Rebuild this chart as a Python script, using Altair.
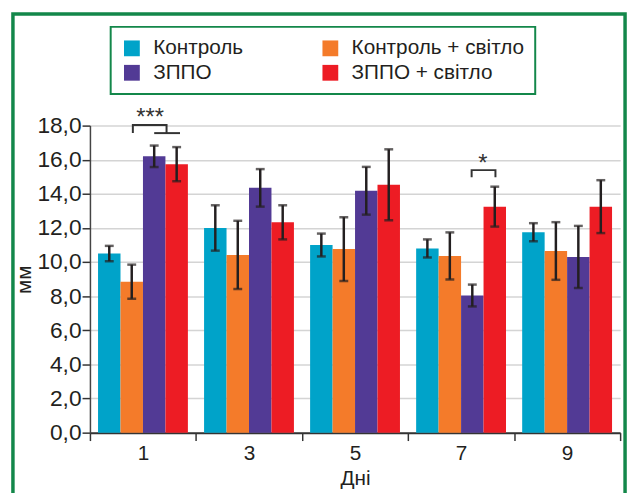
import altair as alt
import pandas as pd

days = ["1", "3", "5", "7", "9"]
groups = ["Контроль", "Контроль + світло", "ЗППО", "ЗППО + світло"]
colors = ["#00a3c9", "#f47b2a", "#523a95", "#ed1c24"]

control = [10.5, 12.0, 11.0, 10.8, 11.75]
control_err = [0.45, 1.33, 0.67, 0.53, 0.53]
control_light = [8.85, 10.42, 10.76, 10.36, 10.65]
control_light_err = [1.0, 2.0, 1.87, 1.38, 1.69]
zppo = [16.2, 14.35, 14.18, 8.04, 10.3]
zppo_err = [0.63, 1.1, 1.4, 0.64, 1.82]
zppo_light = [15.74, 12.33, 14.53, 13.25, 13.25]
zppo_light_err = [1.0, 1.0, 2.08, 1.17, 1.55]

y_ticks = [0, 2, 4, 6, 8, 10, 12, 14, 16, 18]

# significance brackets: segment id, day, slot position (in bar widths), value
br_seg = ["a", "a", "a", "a", "b", "b", "c", "c", "c", "c"]
br_day = ["1", "1", "1", "1", "1", "1", "7", "7", "7", "7"]
br_pos = [1.55, 1.55, 3.05, 3.05, 2.5, 3.65, 2.47, 2.47, 3.53, 3.53]
br_val = [17.56, 18.04, 18.04, 17.56, 17.56, 17.56, 14.97, 15.39, 15.39, 14.97]

star_text = ["***", "*"]
star_day = ["1", "7"]
star_pos = [2.32, 2.97]
star_val = [18.45, 15.75]

values = [control, control_light, zppo, zppo_light]
errors = [control_err, control_light_err, zppo_err, zppo_light_err]
rows = []
for g, vals, errs in zip(groups, values, errors):
    for d, v, e in zip(days, vals, errs):
        rows.append({"day": d, "group": g, "value": v, "lo": v - e, "hi": v + e})
df = pd.DataFrame(rows)

br_df = pd.DataFrame({"seg": br_seg, "day": br_day, "pos": br_pos, "val": br_val,
                      "ord": list(range(len(br_seg)))})
star_df = pd.DataFrame({"txt": star_text, "day": star_day, "pos": star_pos, "val": star_val})

INK = "#231f20"
GREEN = "#13874a"

x_enc = alt.X("day:N", sort=days, title="Дні",
              scale=alt.Scale(paddingInner=0, paddingOuter=0),
              axis=alt.Axis(labelAngle=0, tickBand="extent", tickSize=8, tickWidth=1.5,
                            tickColor="#333333", domainColor="#333333", domainWidth=2,
                            labelFontSize=21, labelPadding=2, labelColor=INK,
                            titleFontSize=21, titleFontWeight="normal", titleColor=INK,
                            titlePadding=5, grid=False))
xoff_nom = alt.XOffset("group:N", sort=groups,
                       scale=alt.Scale(domain=groups, paddingInner=0, paddingOuter=0.36))
xoff_q = alt.XOffset("pos:Q", scale=alt.Scale(domain=[-0.36, 4.36], nice=False, zero=False))
y_scale = alt.Scale(domain=[0, 18], nice=False)
y_axis = alt.Axis(values=y_ticks, tickCount=10,
                  labelExpr="replace(format(datum.value, '.1f'), '.', ',')",
                  labelOverlap=False,
                  tickSize=8, tickWidth=1.5, tickColor="#333333",
                  domainColor="#444444", domainWidth=1.5,
                  gridColor="#d4d4d4", gridWidth=1.5,
                  labelFontSize=23, labelPadding=1, labelColor=INK,
                  title="мм", titleFontSize=21, titleFontWeight="normal",
                  titleColor=INK, titlePadding=2)


def Y(field):
    return alt.Y(field, scale=y_scale, axis=y_axis, title="мм")


bars = alt.Chart(df).mark_bar().encode(
    x=x_enc,
    xOffset=xoff_nom,
    y=Y("value:Q"),
    color=alt.Color("group:N", sort=groups,
                    scale=alt.Scale(domain=groups, range=colors),
                    legend=alt.Legend(title=None, orient="none", legendX=21, legendY=-100,
                                      direction="horizontal", columns=2,
                                      columnPadding=77, rowPadding=3,
                                      symbolType="square", symbolSize=256,
                                      symbolStrokeWidth=0, symbolOpacity=1,
                                      labelFontSize=21, labelColor=INK, labelOffset=11,
                                      labelLimit=400,
                                      padding=11, strokeColor=GREEN)),
)

err_rule = alt.Chart(df).mark_rule(color="#231f20", strokeWidth=2.5).encode(
    x=x_enc, xOffset=xoff_nom,
    y=Y("lo:Q"), y2="hi:Q",
)
err_top = alt.Chart(df).mark_tick(color="#231f20", size=9, thickness=2.5).encode(
    x=x_enc, xOffset=xoff_nom, y=Y("hi:Q"),
)
err_bot = alt.Chart(df).mark_tick(color="#231f20", size=9, thickness=2.5).encode(
    x=x_enc, xOffset=xoff_nom, y=Y("lo:Q"),
)

brackets = alt.Chart(br_df).mark_line(color="#333333", strokeWidth=2).encode(
    x=x_enc, xOffset=xoff_q,
    y=Y("val:Q"),
    detail="seg:N", order="ord:Q",
)
stars = alt.Chart(star_df).mark_text(fontSize=24, color="#333333", baseline="middle").encode(
    x=x_enc, xOffset=xoff_q,
    y=Y("val:Q"),
    text="txt:N",
)

frame = alt.Chart(pd.DataFrame({"k": [0]})).mark_rect(
    fill="transparent", stroke=GREEN, strokeWidth=3.5
).encode(
    x=alt.value(-78), x2=alt.value(542), y=alt.value(-113), y2=alt.value(420)
)

chart = alt.layer(frame, bars, err_rule, err_top, err_bot, brackets, stars).resolve_scale(
    xOffset="independent"
).properties(
    width=537, height=311,
    padding={"left": 83, "top": 116, "right": 10, "bottom": 58},
    autosize=alt.AutoSizeParams(type="none"),
).configure(
    font="Liberation Sans"
).configure_view(
    strokeOpacity=0
).configure_legend(
    strokeWidth=2
)

chart.save("out.html", embed_options={"renderer": "svg", "actions": False})
